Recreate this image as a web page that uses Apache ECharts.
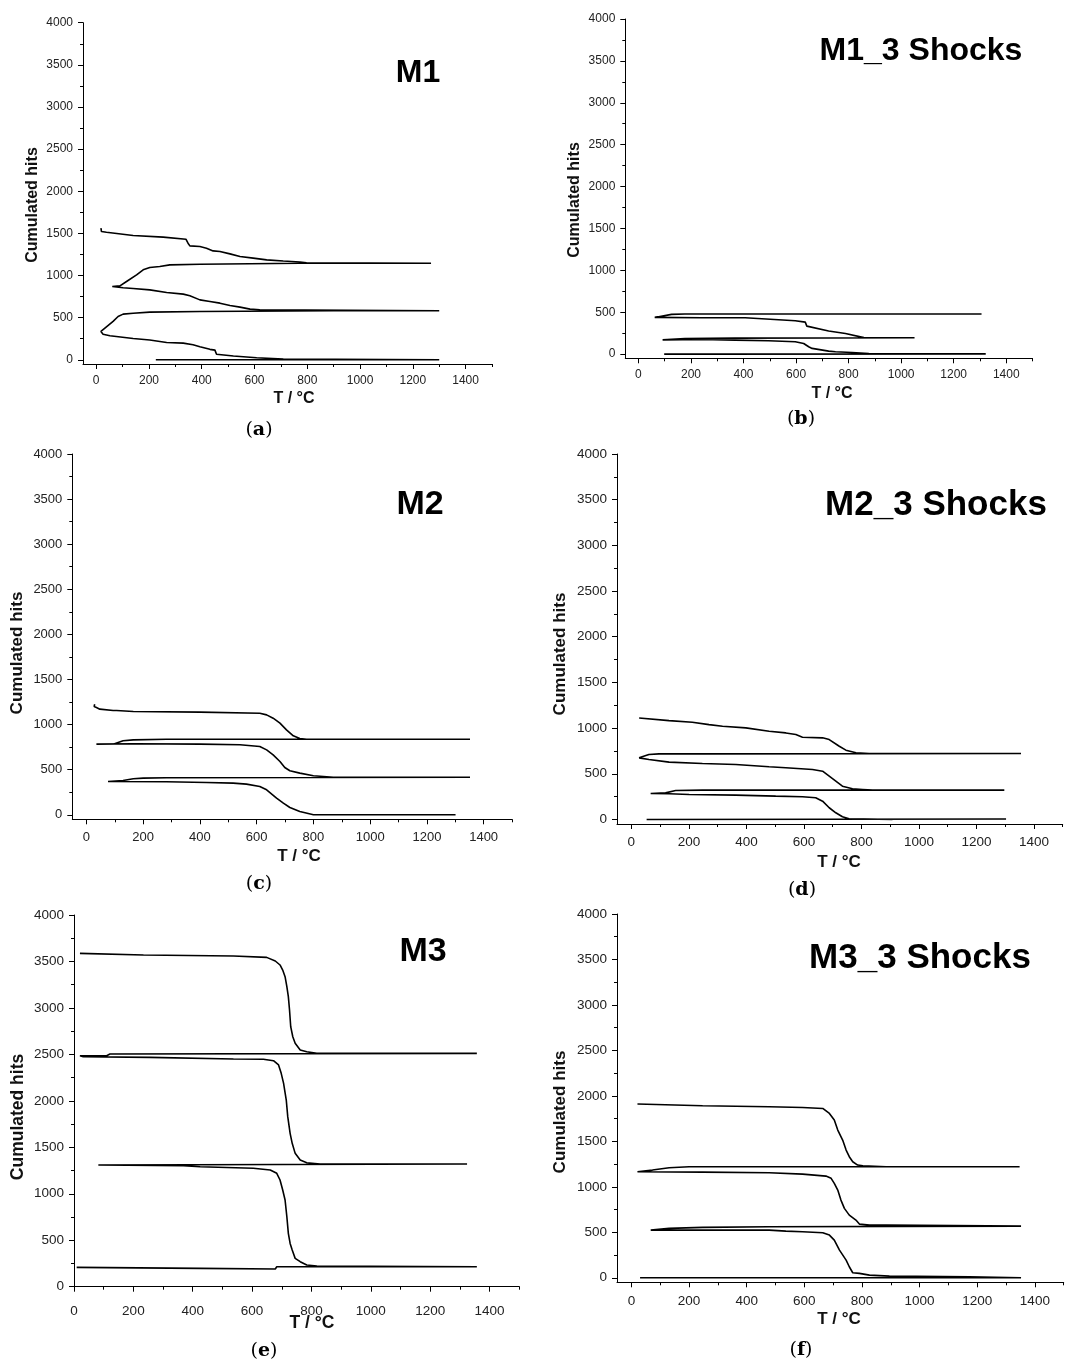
<!DOCTYPE html>
<html>
<head>
<meta charset="utf-8">
<script src="https://cdn.jsdelivr.net/npm/echarts@6/dist/echarts.min.js"></script>
<style>
html,body{margin:0;padding:0;background:#fff;}
#chart{width:1072px;height:1365px;}
</style>
</head>
<body>
<div id="chart"></div>
<script>
// ---- tick values ----
const yTickValues = [0, 500, 1000, 1500, 2000, 2500, 3000, 3500, 4000];
const yMinorValues = [250, 750, 1250, 1750, 2250, 2750, 3250, 3750];
const xTickValues = [0, 200, 400, 600, 800, 1000, 1200, 1400];
const xMinorValues = [100, 300, 500, 700, 900, 1100, 1300, 1500];

// ---- panel titles ----
const panelTitles = ['M1', 'M1_3 Shocks', 'M2', 'M2_3 Shocks', 'M3', 'M3_3 Shocks'];
const panelLetters = ['a', 'b', 'c', 'd', 'e', 'f'];
const xAxisTitle = 'T / °C';
const yAxisTitle = 'Cumulated hits';

// ---- data: temperature (°C) and cumulated hits, path order; null = gap ----
const T_a = [226,1300, 709,608,520,456,450,431,393,367,330,267,203,140,52,26,18,
  33,64,83,102,140,203,393,898,1300,
  620,583,545,507,469,431,393,355,330,267,203,140,102,61,
  90,115,153,178,203,241,279,393,772,1269,
  797,772,709,646,595,545,507,469,443,418,393,355,348,341,340,254,140,39,20,18];
const N_a = [0,0, 8,25,45,65,115,124,155,178,198,206,235,253,285,304,336,
  375,455,514,542,553,565,573,581,581,
  593,601,625,644,672,692,711,759,779,798,830,846,854,870,
  877,929,1008,1067,1095,1107,1126,1134,1146,1146,
  1150,1160,1172,1186,1206,1225,1257,1285,1292,1324,1344,1352,1383,1395,1431,1455,1474,1514,1522,1561];

const T_b = [98,266,1322, 877,813,750,724,661,648,629,597,495,368,241,92,
  177,368,1051, 858,788,724,641,635,597,406,241,62,
  126,177,1306];
const N_b = [0,0,3, 8,20,28,36,68,88,127,147,159,167,175,170,
  187,191,195, 197,247,275,334,382,398,434,434,438,
  474,478,478];

const T_c = [1000,1301, 800,752,717,694,670,635,611,564,517,423,282,76,
  129,165,200,282,1352,
  870,800,752,717,699,682,658,635,611,541,400,165,35,
  94,129,165,282,1352,
  776,752,729,705,682,658,635,611,400,165,106,94,94,47,35,27,27,29];
const N_c = [0,0, 0,37,81,129,185,277,314,340,351,358,366,369,
  380,399,406,410,417,
  417,432,462,488,524,591,665,720,757,776,783,787,783,
  783,820,831,838,838,
  838,846,875,942,1016,1071,1108,1126,1138,1145,1156,1156,1171,1171,1189,1200,1219,1226];

const T_d = [53,1303, null,
  908,757,734,711,688,665,641,595,502,363,201,131,67,
  119,154,247,1297, null,
  839,804,769,734,711,688,665,630,537,479,363,247,131,61,27,
  61,96,247,1355,
  827,781,746,723,688,665,595,572,537,479,398,317,270,212,131,27];
const N_d = [0,5, null,
  0,7,29,73,128,200,237,248,255,266,273,281,284,
  291,317,321,321, null,
  321,328,335,364,419,474,528,546,565,576,601,612,627,656,674,
  710,718,718,721,
  721,729,758,801,874,893,900,929,947,965,1002,1020,1038,1064,1082,1111];

const T_e = [9,425,678,683,1357,
  818,784,762,745,735,728,722,717,711,703,694,683,661,604,425,369,82,
  1324,
  829,784,762,745,735,728,720,715,706,698,689,672,638,537,256,31,20,
  110,121,1357,
  818,784,762,745,737,730,726,722,717,711,703,694,678,649,537,234,20];
const N_e = [208,197,190,215,215,
  222,233,269,305,395,466,574,753,933,1040,1148,1220,1256,1274,1291,1302,1309,
  1320,
  1320,1334,1363,1435,1543,1650,1830,2009,2188,2296,2386,2432,2447,2450,2468,2475,2486,
  2486,2504,2511,
  2511,2529,2547,2619,2690,2798,2978,3121,3229,3336,3408,3462,3505,3544,3558,3569,3587];

const T_f = [30,1352,
  1173,895,826,791,768,756,745,722,704,687,664,594,536,478,247,67,
  131,247,478,1352,
  884,826,791,779,756,739,727,716,704,693,675,594,478,247,21,
  73,131,200,1347, null,
  884,803,785,768,756,745,733,716,704,687,664,594,478,247,21];
const N_f = [0,0,
  11,18,29,48,55,121,194,304,414,469,495,506,513,524,524,524,
  543,554,561,568,
  579,579,590,634,689,763,854,964,1038,1093,1118,1140,1155,1162,1166,
  1184,1210,1221,1221, null,
  1221,1232,1239,1276,1331,1404,1514,1624,1734,1807,1862,1873,1881,1892,1910];

const panelT = [T_a, T_b, T_c, T_d, T_e, T_f];
const panelN = [N_a, N_b, N_c, N_d, N_e, N_f];

// ---- layout (pixels) ----
const layout = [
  {left:83,    top:22.7, width:409,   height:341.3, xMin:-50, yMin:-50, fs:12,   ts:16,   xm:11,   titleSize:32, tx:418, ty:73,  yx:33,  yy:205,  xx:294, xy:399,  lx:259, ly:430},
  {left:625.3, top:19,   width:407.2, height:339.3, xMin:-50, yMin:-50, fs:12,   ts:16,   xm:10.5, titleSize:32, tx:921, ty:51,  yx:575, yy:200,  xx:832, xy:394,  lx:801, ly:419},
  {left:72.3,  top:454,  width:439.7, height:365.3, xMin:-50, yMin:-50, fs:13,   ts:17,   xm:11.5, titleSize:34, tx:420, ty:505, yx:17,  yy:653,  xx:299, xy:856,  lx:259, ly:884},
  {left:617,   top:454,  width:445.7, height:370,   xMin:-50, yMin:-50, fs:13.5, ts:17,   xm:11.5, titleSize:35, tx:936, ty:505, yx:560, yy:654,  xx:839, xy:862,  lx:802, ly:890},
  {left:74,    top:915,  width:445.3, height:371.7, xMin:0,   yMin:0,   fs:13.5, ts:17.5, xm:17.5, titleSize:34, tx:423, ty:952, yx:18,  yy:1117, xx:312, xy:1323, lx:264, ly:1351},
  {left:617,   top:914,  width:446.7, height:368.3, xMin:-50, yMin:-50, fs:13.5, ts:17,   xm:12,   titleSize:35, tx:920, ty:958, yx:560, yy:1112, xx:839, xy:1319, lx:801, ly:1350}
];

const FONT = '"Liberation Sans", Arial, sans-serif';
const plain = v => String(v);
const grids = [], xAxes = [], yAxes = [], series = [], graphics = [];

layout.forEach((L, i) => {
  grids.push({left:L.left, top:L.top, width:L.width, height:L.height, containLabel:false});
  const lineStyle = {color:'#000', width:1};
  xAxes.push({
    type:'value', gridIndex:i, min:L.xMin, max:1500, position:'bottom',
    axisLine:{show:true, onZero:false, lineStyle},
    axisTick:{show:true, customValues:xTickValues, length:5, lineStyle},
    axisLabel:{show:true, customValues:xTickValues, formatter:plain, fontSize:L.fs, color:'#222', margin:L.xm, fontFamily:FONT},
    splitLine:{show:false}
  });
  xAxes.push({
    type:'value', gridIndex:i, min:L.xMin, max:1500, position:'bottom',
    axisLine:{show:false, onZero:false},
    axisTick:{show:true, customValues:xMinorValues, length:3, lineStyle},
    axisLabel:{show:false},
    splitLine:{show:false}
  });
  yAxes.push({
    type:'value', gridIndex:i, min:L.yMin, max:4000, position:'left',
    axisLine:{show:true, onZero:false, lineStyle},
    axisTick:{show:true, customValues:yTickValues, length:5, lineStyle},
    axisLabel:{show:true, customValues:yTickValues, formatter:plain, fontSize:L.fs, color:'#222', margin:10, fontFamily:FONT},
    splitLine:{show:false}
  });
  yAxes.push({
    type:'value', gridIndex:i, min:L.yMin, max:4000, position:'left',
    axisLine:{show:false, onZero:false},
    axisTick:{show:true, customValues:yMinorValues, length:3, lineStyle},
    axisLabel:{show:false},
    splitLine:{show:false}
  });

  const T = panelT[i], N = panelN[i];
  const data = T.map((t, k) => (t === null || N[k] === null) ? ['-', '-'] : [t, N[k]]);
  series.push({
    type:'line', xAxisIndex:2*i, yAxisIndex:2*i, data,
    showSymbol:false, symbol:'none', connectNulls:false,
    lineStyle:{color:'#000', width:1.6}, silent:true
  });

  graphics.push({type:'text', x:L.tx, y:L.ty, style:{text:panelTitles[i], font:'bold '+L.titleSize+'px '+FONT, fill:'#000', textAlign:'center', textVerticalAlign:'middle'}});
  graphics.push({type:'text', x:L.yx, y:L.yy, rotation:Math.PI/2, style:{text:yAxisTitle, font:'bold '+L.ts+'px '+FONT, fill:'#111', textAlign:'center', textVerticalAlign:'middle'}});
  graphics.push({type:'text', x:L.xx, y:L.xy, style:{text:xAxisTitle, font:'bold '+L.ts+'px '+FONT, fill:'#111', textAlign:'center', textVerticalAlign:'middle'}});
  graphics.push({type:'text', x:L.lx, y:L.ly, style:{
    text:'{p|(}{b|' + panelLetters[i] + '}{p|)}', textAlign:'center', textVerticalAlign:'middle',
    rich:{p:{font:'19px "DejaVu Serif", serif', fill:'#000'}, b:{font:'bold 19px "DejaVu Serif", serif', fill:'#000'}}
  }});
});

const chart = echarts.init(document.getElementById('chart'), null, {renderer:'canvas'});
chart.setOption({
  animation:false,
  backgroundColor:'#fff',
  grid:grids, xAxis:xAxes, yAxis:yAxes, series, graphic:graphics
});
</script>
</body>
</html>
